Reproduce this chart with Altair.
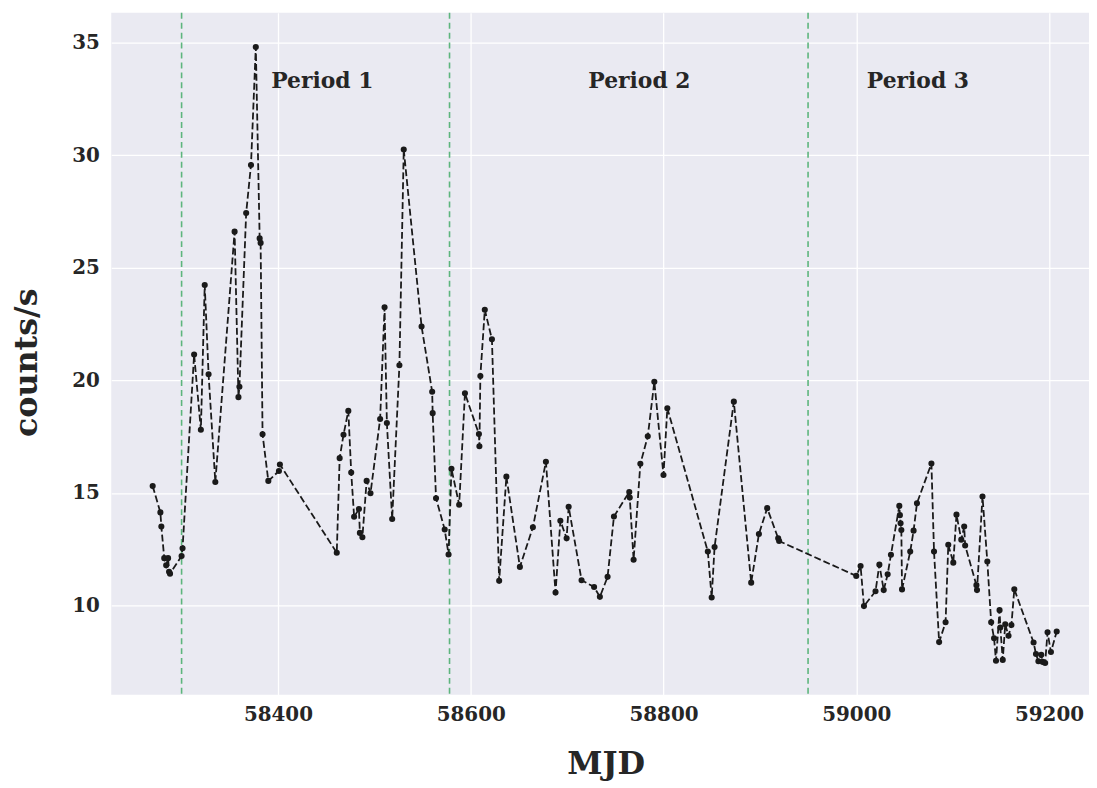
import altair as alt
import pandas as pd

# ---- data ----
mjd = [58270, 58278, 58279, 58282, 58284, 58286, 58287, 58288, 58300, 58301,
       58313, 58320, 58324, 58328, 58335, 58355, 58359, 58360, 58367, 58372,
       58377, 58381, 58382, 58384, 58390, 58401, 58402,
       58461, 58464, 58468, 58473, 58476, 58479, 58484, 58485, 58487.6, 58492,
       58496, 58506, 58510.6, 58513, 58518.5, 58526, 58530.5, 58549, 58560, 58560.5,
       58564, 58573, 58577, 58580, 58588, 58594, 58608.5, 58609, 58610, 58614.6,
       58622, 58629.5, 58637, 58651, 58664.5, 58678, 58688, 58693, 58699.5, 58701.6,
       58715, 58728, 58734, 58742, 58748.6, 58764.5, 58765, 58769, 58776, 58783.7,
       58790.5, 58800, 58804, 58846, 58850, 58853, 58873, 58891, 58899, 58907.6,
       58919, 58920,
       59000, 59004.5, 59008, 59020, 59024, 59028.5, 59032.6, 59036, 59044.7, 59045.3,
       59046, 59046.8, 59047.5, 59056, 59059.5, 59063, 59078, 59080.7, 59086, 59092.7,
       59095.5, 59100.7, 59104, 59109, 59112, 59113, 59124.7, 59125.3, 59131, 59136,
       59140, 59143, 59145, 59148.7, 59149.5, 59152, 59154.6, 59158, 59161, 59164,
       59184, 59186.5, 59189, 59192, 59193.5, 59196, 59198.5, 59202, 59208]
rate = [15.3, 14.13, 13.5, 12.1, 11.78, 12.1, 11.49, 11.41, 12.19, 12.54,
        21.14, 17.8, 24.23, 20.27, 15.48, 26.6, 19.25, 19.71, 27.43, 29.56,
        34.8, 26.3, 26.1, 17.6, 15.53, 15.97, 16.26,
        12.34, 16.54, 17.58, 18.64, 15.9, 13.94, 14.28, 13.22, 13.03, 15.53,
        14.98, 18.28, 23.24, 18.1, 13.84, 20.67, 30.25, 22.39, 19.49, 18.54,
        14.76, 13.37, 12.26, 16.07, 14.47, 19.42, 17.61, 17.07, 20.19, 23.13,
        21.82, 11.09, 15.72, 11.71, 13.47, 16.38, 10.57, 13.76, 12.98, 14.38,
        11.12, 10.82, 10.38, 11.27, 13.95, 15.04, 14.79, 12.03, 16.29, 17.51,
        19.93, 15.79, 18.76, 12.39, 10.35, 12.59, 19.05, 11.01, 13.17, 14.32,
        12.98, 12.86,
        11.31, 11.75, 9.97, 10.63, 11.81, 10.68, 11.38, 12.25, 14.42, 14.01,
        13.65, 13.35, 10.71, 12.39, 13.32, 14.54, 16.3, 12.39, 8.37, 9.25,
        12.69, 11.9, 14.03, 12.92, 13.5, 12.66, 10.9, 10.68, 14.84, 11.95,
        9.25, 8.54, 7.54, 9.79, 9.02, 7.58, 9.16, 8.65, 9.13, 10.72,
        8.35, 7.84, 7.52, 7.81, 7.49, 7.44, 8.81, 7.93, 8.84]

period_bounds = [58300, 58578, 58950]
period_names = ["Period 1", "Period 2", "Period 3"]
period_name_mjd = [58446, 58775, 59064]
period_name_rate = [33.3, 33.3, 33.3]

x_ticks = [58400, 58600, 58800, 59000, 59200]
y_ticks = [10, 15, 20, 25, 30, 35]

df = pd.DataFrame({"mjd": mjd, "rate": rate})
bounds_df = pd.DataFrame({"mjd": period_bounds})
names_df = pd.DataFrame({"mjd": period_name_mjd, "rate": period_name_rate, "name": period_names})

FONT = "DejaVu Serif"
TXT = "#262626"

x_scale = alt.Scale(domain=[58227, 59241.5], nice=False, zero=False)
y_scale = alt.Scale(domain=[6.03, 36.32], nice=False, zero=False)

x_axis = alt.Axis(values=x_ticks, format="d", title="MJD", grid=True, gridColor="white",
                  gridWidth=1.3, domain=False, ticks=False, tickSize=0,
                  labelFont=FONT, labelFontWeight="bold", labelFontSize=20, labelColor=TXT,
                  labelPadding=10, labelFlush=False,
                  titleFont=FONT, titleFontWeight="bold", titleFontSize=32, titleColor=TXT,
                  titleX=498, titleY=79, titleBaseline="alphabetic", titleAlign="center")
y_axis = alt.Axis(values=y_ticks, format="d", title="counts/s", grid=True, gridColor="white",
                  gridWidth=1.3, domain=False, ticks=False, tickSize=0,
                  labelFont=FONT, labelFontWeight="bold", labelFontSize=20, labelColor=TXT,
                  labelPadding=12,
                  titleFont=FONT, titleFontWeight="bold", titleFontSize=32, titleColor=TXT,
                  titleX=-85, titleY=352, titleAngle=270, titleBaseline="middle",
                  titleAlign="center")

base = alt.Chart(df)

line = base.mark_line(color="#1a1a1a", strokeWidth=1.8, strokeDash=[7, 3]).encode(
    x=alt.X("mjd:Q", scale=x_scale, axis=x_axis),
    y=alt.Y("rate:Q", scale=y_scale, axis=y_axis),
)
pts = base.mark_circle(color="#1a1a1a", size=38, opacity=1).encode(
    x=alt.X("mjd:Q", scale=x_scale),
    y=alt.Y("rate:Q", scale=y_scale),
)
rules = alt.Chart(bounds_df).mark_rule(color="#5DB57D", strokeWidth=1.6,
                                       strokeDash=[6, 4]).encode(
    x=alt.X("mjd:Q", scale=x_scale),
)
labels = alt.Chart(names_df).mark_text(font=FONT, fontWeight="bold", fontSize=22,
                                       color=TXT, align="center", baseline="middle").encode(
    x=alt.X("mjd:Q", scale=x_scale),
    y=alt.Y("rate:Q", scale=y_scale),
    text="name:N",
)

chart = alt.layer(rules, line, pts, labels).properties(
    width=985, height=687,
    autosize=alt.AutoSizeParams(type="none"),
    padding={"left": 104, "top": 2, "right": 0, "bottom": 88},
    background="white",
).configure_view(fill="#EAEAF2", strokeWidth=0)

chart.save("out.html", embed_options={"renderer": "svg", "actions": False})
